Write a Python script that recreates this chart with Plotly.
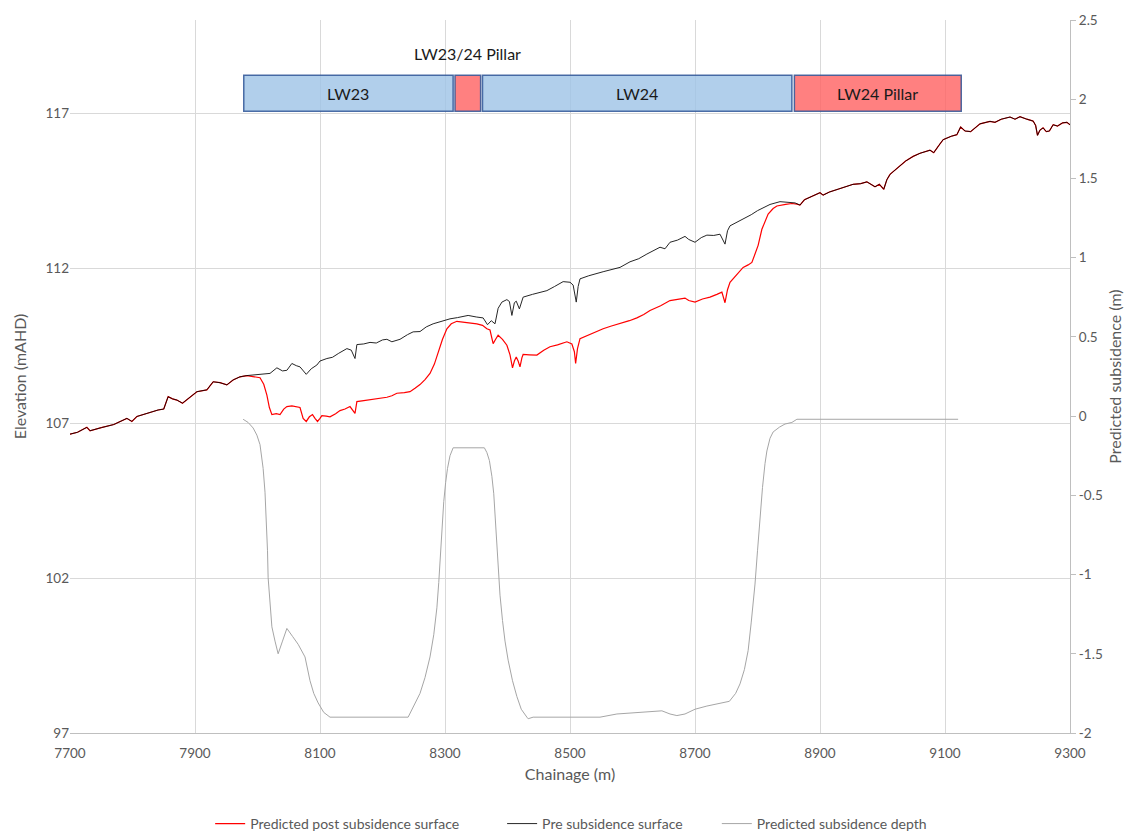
import plotly.graph_objects as go

# ---------------- data ----------------
pre_x = [7700, 7712, 7727, 7732, 7750, 7770, 7791, 7799, 7807, 7823, 7841, 7850, 7857, 7864, 7871, 7880,
         7895, 7903, 7919, 7929, 7940, 7951, 7961, 7972, 7983, 7993, 8005, 8020, 8031, 8040, 8047, 8055,
         8062, 8068, 8078, 8086, 8095, 8100, 8111, 8120, 8130, 8143, 8150, 8156, 8159, 8170, 8180, 8190,
         8200, 8207, 8215, 8228, 8240, 8249, 8260, 8270, 8281, 8295, 8308, 8320, 8337, 8350, 8361, 8368,
         8374, 8380, 8385, 8391, 8399, 8403, 8407, 8411, 8414, 8419, 8425, 8440, 8463, 8475, 8489, 8500,
         8505, 8510, 8513, 8516, 8530, 8553, 8565, 8580, 8596, 8610, 8623, 8644, 8652, 8660, 8672, 8684,
         8690, 8700, 8710, 8719, 8730, 8740, 8748, 8752, 8756, 8765, 8777, 8790, 8800, 8809, 8820, 8836,
         8850, 8860, 8868, 8875, 8888, 8900, 8905, 8915, 8930, 8953, 8965, 8975, 8988, 8995, 9002, 9007,
         9012, 9025, 9037, 9049, 9060, 9076, 9082, 9090, 9097, 9110, 9119, 9125, 9132, 9141, 9156, 9172,
         9180, 9190, 9204, 9212, 9220, 9231, 9241, 9245, 9248, 9252, 9257, 9262, 9267, 9273, 9280, 9288,
         9295, 9300]
pre_y = [106.64, 106.70, 106.86, 106.75, 106.85, 106.95, 107.15, 107.05, 107.21, 107.31, 107.42, 107.45,
         107.85, 107.78, 107.74, 107.64, 107.90, 108.01, 108.07, 108.33, 108.30, 108.23, 108.39, 108.49,
         108.53, 108.55, 108.55, 108.60, 108.78, 108.68, 108.70, 108.92, 108.85, 108.81, 108.57, 108.75,
         108.87, 109.00, 109.08, 109.12, 109.25, 109.40, 109.35, 109.08, 109.53, 109.55, 109.60, 109.58,
         109.68, 109.70, 109.62, 109.70, 109.85, 109.94, 109.95, 110.10, 110.20, 110.28, 110.36, 110.40,
         110.47, 110.42, 110.39, 110.17, 110.30, 110.20, 110.70, 110.90, 110.98, 110.92, 110.47, 110.88,
         110.93, 110.68, 111.06, 111.15, 111.27, 111.40, 111.56, 111.54, 111.45, 110.90, 111.40, 111.65,
         111.75, 111.88, 111.95, 112.02, 112.20, 112.30, 112.45, 112.67, 112.62, 112.83, 112.90, 113.02,
         112.92, 112.83, 112.98, 113.06, 113.05, 113.09, 112.77, 113.20, 113.36, 113.45, 113.57, 113.72,
         113.85, 113.95, 114.05, 114.14, 114.12, 114.10, 114.03, 114.20, 114.32, 114.43, 114.35, 114.45,
         114.55, 114.70, 114.72, 114.78, 114.62, 114.70, 114.54, 114.85, 115.02, 115.25, 115.45, 115.60,
         115.70, 115.80, 115.72, 115.95, 116.14, 116.25, 116.30, 116.55, 116.42, 116.40, 116.65, 116.73,
         116.70, 116.80, 116.87, 116.80, 116.88, 116.80, 116.74, 116.60, 116.28, 116.45, 116.52, 116.40,
         116.42, 116.62, 116.58, 116.68, 116.70, 116.62]

# post-subsidence surface inside the mining-affected zone
post_x = [7983, 7995, 8004, 8010, 8015, 8019, 8023, 8030, 8036, 8042, 8047, 8055, 8062, 8068, 8073, 8078,
          8083, 8088, 8092, 8096, 8100, 8103, 8110, 8116, 8125, 8132, 8140, 8148, 8156, 8159, 8170, 8180,
          8195, 8207, 8215, 8223, 8235, 8244, 8252, 8260, 8268, 8276, 8283, 8289, 8296, 8303, 8310, 8319,
          8335, 8351, 8360, 8367, 8372, 8377, 8381, 8385, 8392, 8399, 8404, 8408, 8411, 8414, 8417, 8420,
          8423, 8425, 8435, 8447, 8458, 8468, 8480, 8495, 8503, 8507, 8509, 8512, 8516, 8530, 8553, 8565,
          8580, 8595, 8607, 8618, 8628, 8645, 8660, 8672, 8684, 8690, 8700, 8712, 8724, 8735, 8743, 8748,
          8752, 8756, 8765, 8777, 8785, 8791, 8796, 8801, 8807, 8812, 8817, 8825, 8831, 8845, 8855, 8863]
post_y = [108.53, 108.48, 108.46, 108.25, 107.90, 107.50, 107.27, 107.30, 107.27, 107.45, 107.53, 107.55,
          107.52, 107.50, 107.15, 107.05, 107.20, 107.27, 107.15, 107.05, 107.15, 107.24, 107.22, 107.20,
          107.30, 107.40, 107.45, 107.53, 107.31, 107.69, 107.72, 107.75, 107.80, 107.83, 107.88, 107.96,
          107.98, 108.01, 108.12, 108.24, 108.40, 108.60, 108.90, 109.30, 109.70, 110.04, 110.20, 110.28,
          110.24, 110.20, 110.15, 110.04, 110.00, 109.56, 109.70, 109.83, 109.70, 109.51, 109.20, 108.78,
          109.00, 109.13, 109.00, 108.81, 109.10, 109.21, 109.20, 109.19, 109.35, 109.46, 109.52, 109.62,
          109.55, 109.30, 108.92, 109.40, 109.72, 109.85, 110.04, 110.12, 110.20, 110.30, 110.39, 110.50,
          110.63, 110.78, 110.95, 111.00, 111.03, 110.95, 110.90, 111.00, 111.06, 111.15, 111.22, 110.88,
          111.30, 111.54, 111.75, 112.02, 112.10, 112.18, 112.45, 112.73, 113.25, 113.50, 113.74, 113.92,
          114.00, 114.05, 114.08, 114.06]

sub_x = [7977, 7985, 7993, 7999, 8004, 8009, 8012, 8014, 8016, 8017, 8020, 8023, 8028, 8033, 8040, 8047,
         8056, 8065, 8076, 8080, 8084, 8090, 8097, 8106, 8116, 8241, 8250, 8260, 8268, 8276, 8282, 8287,
         8290, 8293, 8296, 8298, 8301, 8304, 8308, 8313, 8363, 8367, 8371, 8375, 8378, 8381, 8385, 8388,
         8392, 8396, 8401, 8408, 8415, 8422, 8431, 8433, 8441, 8548, 8575, 8610, 8647, 8660, 8671, 8684,
         8700, 8719, 8755, 8765, 8772, 8779, 8785, 8790, 8796, 8800, 8804, 8808, 8812, 8815, 8820, 8825,
         8835, 8844, 8855, 8863, 9121]
sub_y = [-0.02, -0.04, -0.075, -0.12, -0.18, -0.33, -0.48, -0.64, -0.85, -1.02, -1.20, -1.33, -1.42, -1.50,
         -1.42, -1.34, -1.39, -1.44, -1.52, -1.60, -1.67, -1.75, -1.81, -1.87, -1.90, -1.90, -1.83, -1.75,
         -1.65, -1.52, -1.38, -1.21, -1.05, -0.85, -0.68, -0.54, -0.42, -0.33, -0.25, -0.20, -0.20, -0.23,
         -0.28, -0.38, -0.49, -0.70, -0.95, -1.13, -1.29, -1.42, -1.54, -1.67, -1.77, -1.85, -1.90, -1.91,
         -1.90, -1.90, -1.88, -1.87, -1.86, -1.88, -1.89, -1.88, -1.85, -1.83, -1.80, -1.75, -1.69, -1.60,
         -1.48, -1.30, -1.06, -0.85, -0.64, -0.45, -0.30, -0.22, -0.14, -0.10, -0.07, -0.05, -0.04, -0.02,
         -0.02]

panel_names = ["LW23", "", "LW24", "LW24 Pillar"]
panel_start = [7978, 8316, 8360, 8859]
panel_end = [8313, 8357, 8855, 9126]
panel_kind = ["longwall", "pillar", "longwall", "pillar"]

x_ticks = [7700, 7900, 8100, 8300, 8500, 8700, 8900, 9100, 9300]
elev_ticks = [97, 102, 107, 112, 117]
sub_ticks = [-2, -1.5, -1, -0.5, 0, 0.5, 1, 1.5, 2, 2.5]
sub_tick_text = ["-2", "-1.5", "-1", "-0.5", "0", "0.5", "1", "1.5", "2", "2.5"]

# post surface equals pre surface outside the affected zone
red_x = [x for x in pre_x if x < post_x[0]] + post_x + [x for x in pre_x if x > post_x[-1]]
red_y = ([y for x, y in zip(pre_x, pre_y) if x < post_x[0]] + post_y +
         [y for x, y in zip(pre_x, pre_y) if x > post_x[-1]])

FONT = "Lato, 'Open Sans', sans-serif"
GREY = "#595959"

fig = go.Figure()
fig.add_trace(go.Scatter(x=red_x, y=red_y, mode="lines", name="Predicted post subsidence surface",
                         line=dict(color="#ff0000", width=1.2), legend="legend"))
fig.add_trace(go.Scatter(x=pre_x, y=pre_y, mode="lines", name="Pre subsidence surface",
                         line=dict(color="#000000", width=1), opacity=0.85, legend="legend2"))
fig.add_trace(go.Scatter(x=sub_x, y=sub_y, mode="lines", name="Predicted subsidence depth",
                         line=dict(color="#a6a6a6", width=1), yaxis="y2", legend="legend3"))

shapes = []
annotations = []
for name, s, e, kind in zip(panel_names, panel_start, panel_end, panel_kind):
    fill = "rgba(157,195,230,0.8)" if kind == "longwall" else "rgba(255,96,96,0.8)"
    shapes.append(dict(type="rect", xref="x", yref="y", x0=s, x1=e, y0=117.06, y1=118.22,
                       fillcolor=fill, line=dict(color="rgba(47,85,151,0.85)", width=1.5), layer="above"))
    if name:
        annotations.append(dict(x=(s + e) / 2, y=117.64, xref="x", yref="y", text=name, showarrow=False,
                                font=dict(family=FONT, size=16, color="#1a1a1a")))
annotations.append(dict(x=(panel_start[1] + panel_end[1]) / 2, y=118.93, xref="x", yref="y",
                        text="LW23/24 Pillar", showarrow=False,
                        font=dict(family=FONT, size=16, color="#1a1a1a")))

leg_common = dict(orientation="h", xref="container", yref="container", y=0.012, yanchor="middle",
                  xanchor="left", itemwidth=30,
                  font=dict(family=FONT, size=14, color=GREY), bgcolor="rgba(0,0,0,0)")

fig.update_layout(
    width=1136, height=834,
    margin=dict(l=70, r=66, t=17, b=101),
    paper_bgcolor="white", plot_bgcolor="white",
    font=dict(family=FONT, size=13.5, color=GREY),
    shapes=shapes, annotations=annotations,
    showlegend=True,
    legend=dict(x=0.185, **leg_common),
    legend2=dict(x=0.442, **leg_common),
    legend3=dict(x=0.631, **leg_common),
    xaxis=dict(range=[7700, 9300], tickvals=x_ticks, showgrid=True, gridcolor="#d9d9d9", gridwidth=1.3,
               showline=True, linecolor="#bfbfbf", linewidth=1.3, zeroline=False, ticks="",
               ticklabelstandoff=8,
               title=dict(text="Chainage (m)", font=dict(size=16, color=GREY), standoff=8),
               tickfont=dict(size=13.5, color=GREY)),
    yaxis=dict(range=[97, 120], tickvals=elev_ticks, showgrid=True, gridcolor="#d9d9d9", gridwidth=1.3,
               showline=False, zeroline=False, ticks="",
               title=dict(text="Elevation (mAHD)", font=dict(size=16, color=GREY), standoff=14),
               tickfont=dict(size=13.5, color=GREY)),
    yaxis2=dict(range=[-2, 2.5], tickvals=sub_ticks, ticktext=sub_tick_text, overlaying="y", side="right",
                showgrid=False, showline=True, linecolor="#bfbfbf", linewidth=1.3, zeroline=False,
                ticks="outside", ticklen=5, tickcolor="#bfbfbf",
                title=dict(text="Predicted subsidence (m)", font=dict(size=16, color=GREY), standoff=8),
                tickfont=dict(size=13.5, color=GREY)),
)

fig.write_html("out.html")
